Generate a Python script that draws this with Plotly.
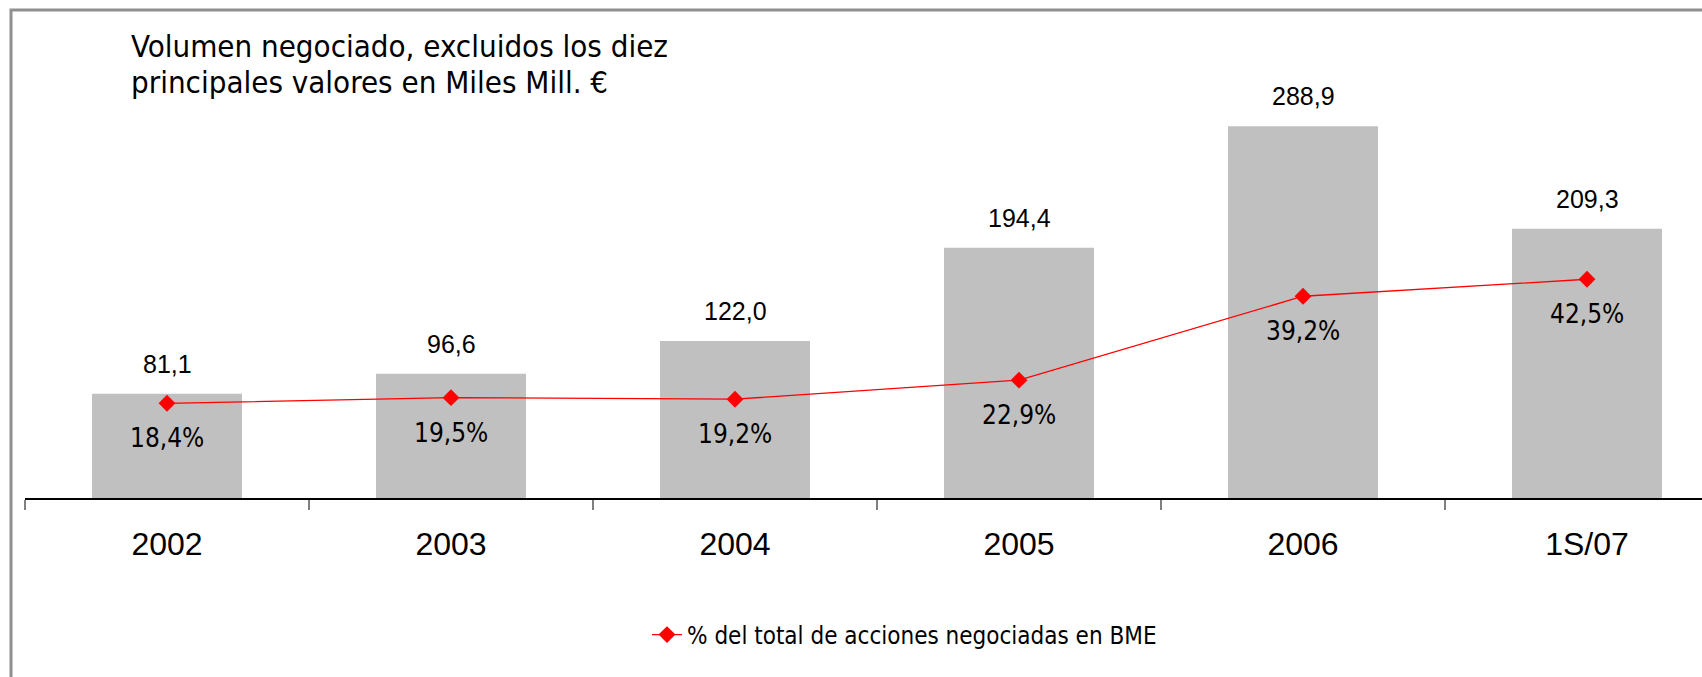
import plotly.graph_objects as go

categories = ["2002", "2003", "2004", "2005", "2006", "1S/07"]
volumen = [81.1, 96.6, 122.0, 194.4, 288.9, 209.3]
porcentaje = [18.4, 19.5, 19.2, 22.9, 39.2, 42.5]
volumen_labels = ["81,1", "96,6", "122,0", "194,4", "288,9", "209,3"]
porcentaje_labels = ["18,4%", "19,5%", "19,2%", "22,9%", "39,2%", "42,5%"]
title_lines = ["Volumen negociado, excluidos los diez", "principales valores en Miles Mill. €"]
legend_name = "% del total de acciones negociadas en BME"

W, H = 1702, 677
L, R, T, B = 25, 0, 112, 179
plot_w = W - L - R
plot_h = H - T - B
cat_w = 284.0

COND = "DejaVu Sans Condensed, DejaVu Sans, sans-serif"
ARIAL = "Liberation Sans, Arial, sans-serif"


def py(px):
    return (H - B - px) / plot_h


def pxx(px):
    return (px - L) / plot_w


fig = go.Figure()
fig.add_trace(go.Bar(
    x=categories, y=volumen, marker_color="#c0c0c0",
    marker_line_width=0, width=0.528, showlegend=False, hoverinfo="skip",
    yaxis="y",
))
fig.add_trace(go.Scatter(
    x=categories, y=porcentaje, mode="lines+markers",
    name=legend_name, line=dict(color="#ff0000", width=1.3),
    marker=dict(symbol="diamond", size=13, color="#ff0000"),
    yaxis="y2",
))

annotations = []
for i, (v, lab) in enumerate(zip(volumen, volumen_labels)):
    annotations.append(dict(x=i, y=v, xref="x", yref="y", text=lab, showarrow=False,
                            yanchor="middle", yshift=30,
                            font=dict(family=ARIAL, size=25, color="#000000")))
for i, (p, lab) in enumerate(zip(porcentaje, porcentaje_labels)):
    annotations.append(dict(x=i, y=p, xref="x", yref="y2", text=lab, showarrow=False,
                            yanchor="middle", yshift=-35,
                            font=dict(family=COND, size=26, color="#000000")))
for k, line in enumerate(title_lines):
    annotations.append(dict(x=pxx(129), y=py(46 + 36 * k), xref="paper", yref="paper",
                            text=line, showarrow=False, xanchor="left", yanchor="middle",
                            align="left",
                            font=dict(family=COND, size=31, color="#000000")))

fig.update_layout(
    width=W, height=H,
    margin=dict(l=L, r=R, t=T, b=B, pad=0),
    paper_bgcolor="#ffffff", plot_bgcolor="#ffffff",
    xaxis=dict(
        type="category", categoryorder="array", categoryarray=categories,
        range=[-0.5, -0.5 + plot_w / cat_w],
        showline=True, linecolor="#000000", linewidth=1.5,
        ticks="outside", ticklen=10, tickcolor="#808080", tickwidth=2,
        tickson="boundaries", showgrid=False, zeroline=False,
        tickfont=dict(family=ARIAL, size=32, color="#000000"),
        ticklabelstandoff=17,
    ),
    yaxis=dict(range=[0, 300], visible=False, showgrid=False, zeroline=False),
    yaxis2=dict(range=[0, 75], visible=False, overlaying="y", side="right",
                showgrid=False, zeroline=False),
    showlegend=True,
    legend=dict(orientation="h", x=pxx(647), y=py(635),
                xanchor="left", yanchor="middle",
                font=dict(family=COND, size=24, color="#000000"),
                bgcolor="rgba(0,0,0,0)"),
    annotations=annotations,
    shapes=[dict(type="rect", xref="paper", yref="paper",
                 x0=pxx(11), x1=1.05,
                 y0=-1.0, y1=py(10),
                 line=dict(color="#909090", width=3), fillcolor="rgba(0,0,0,0)",
                 layer="below")],
)

fig.write_html("out.html", config={"displayModeBar": False},
               post_script="document.body.style.margin='0';document.body.style.overflow='hidden';")
